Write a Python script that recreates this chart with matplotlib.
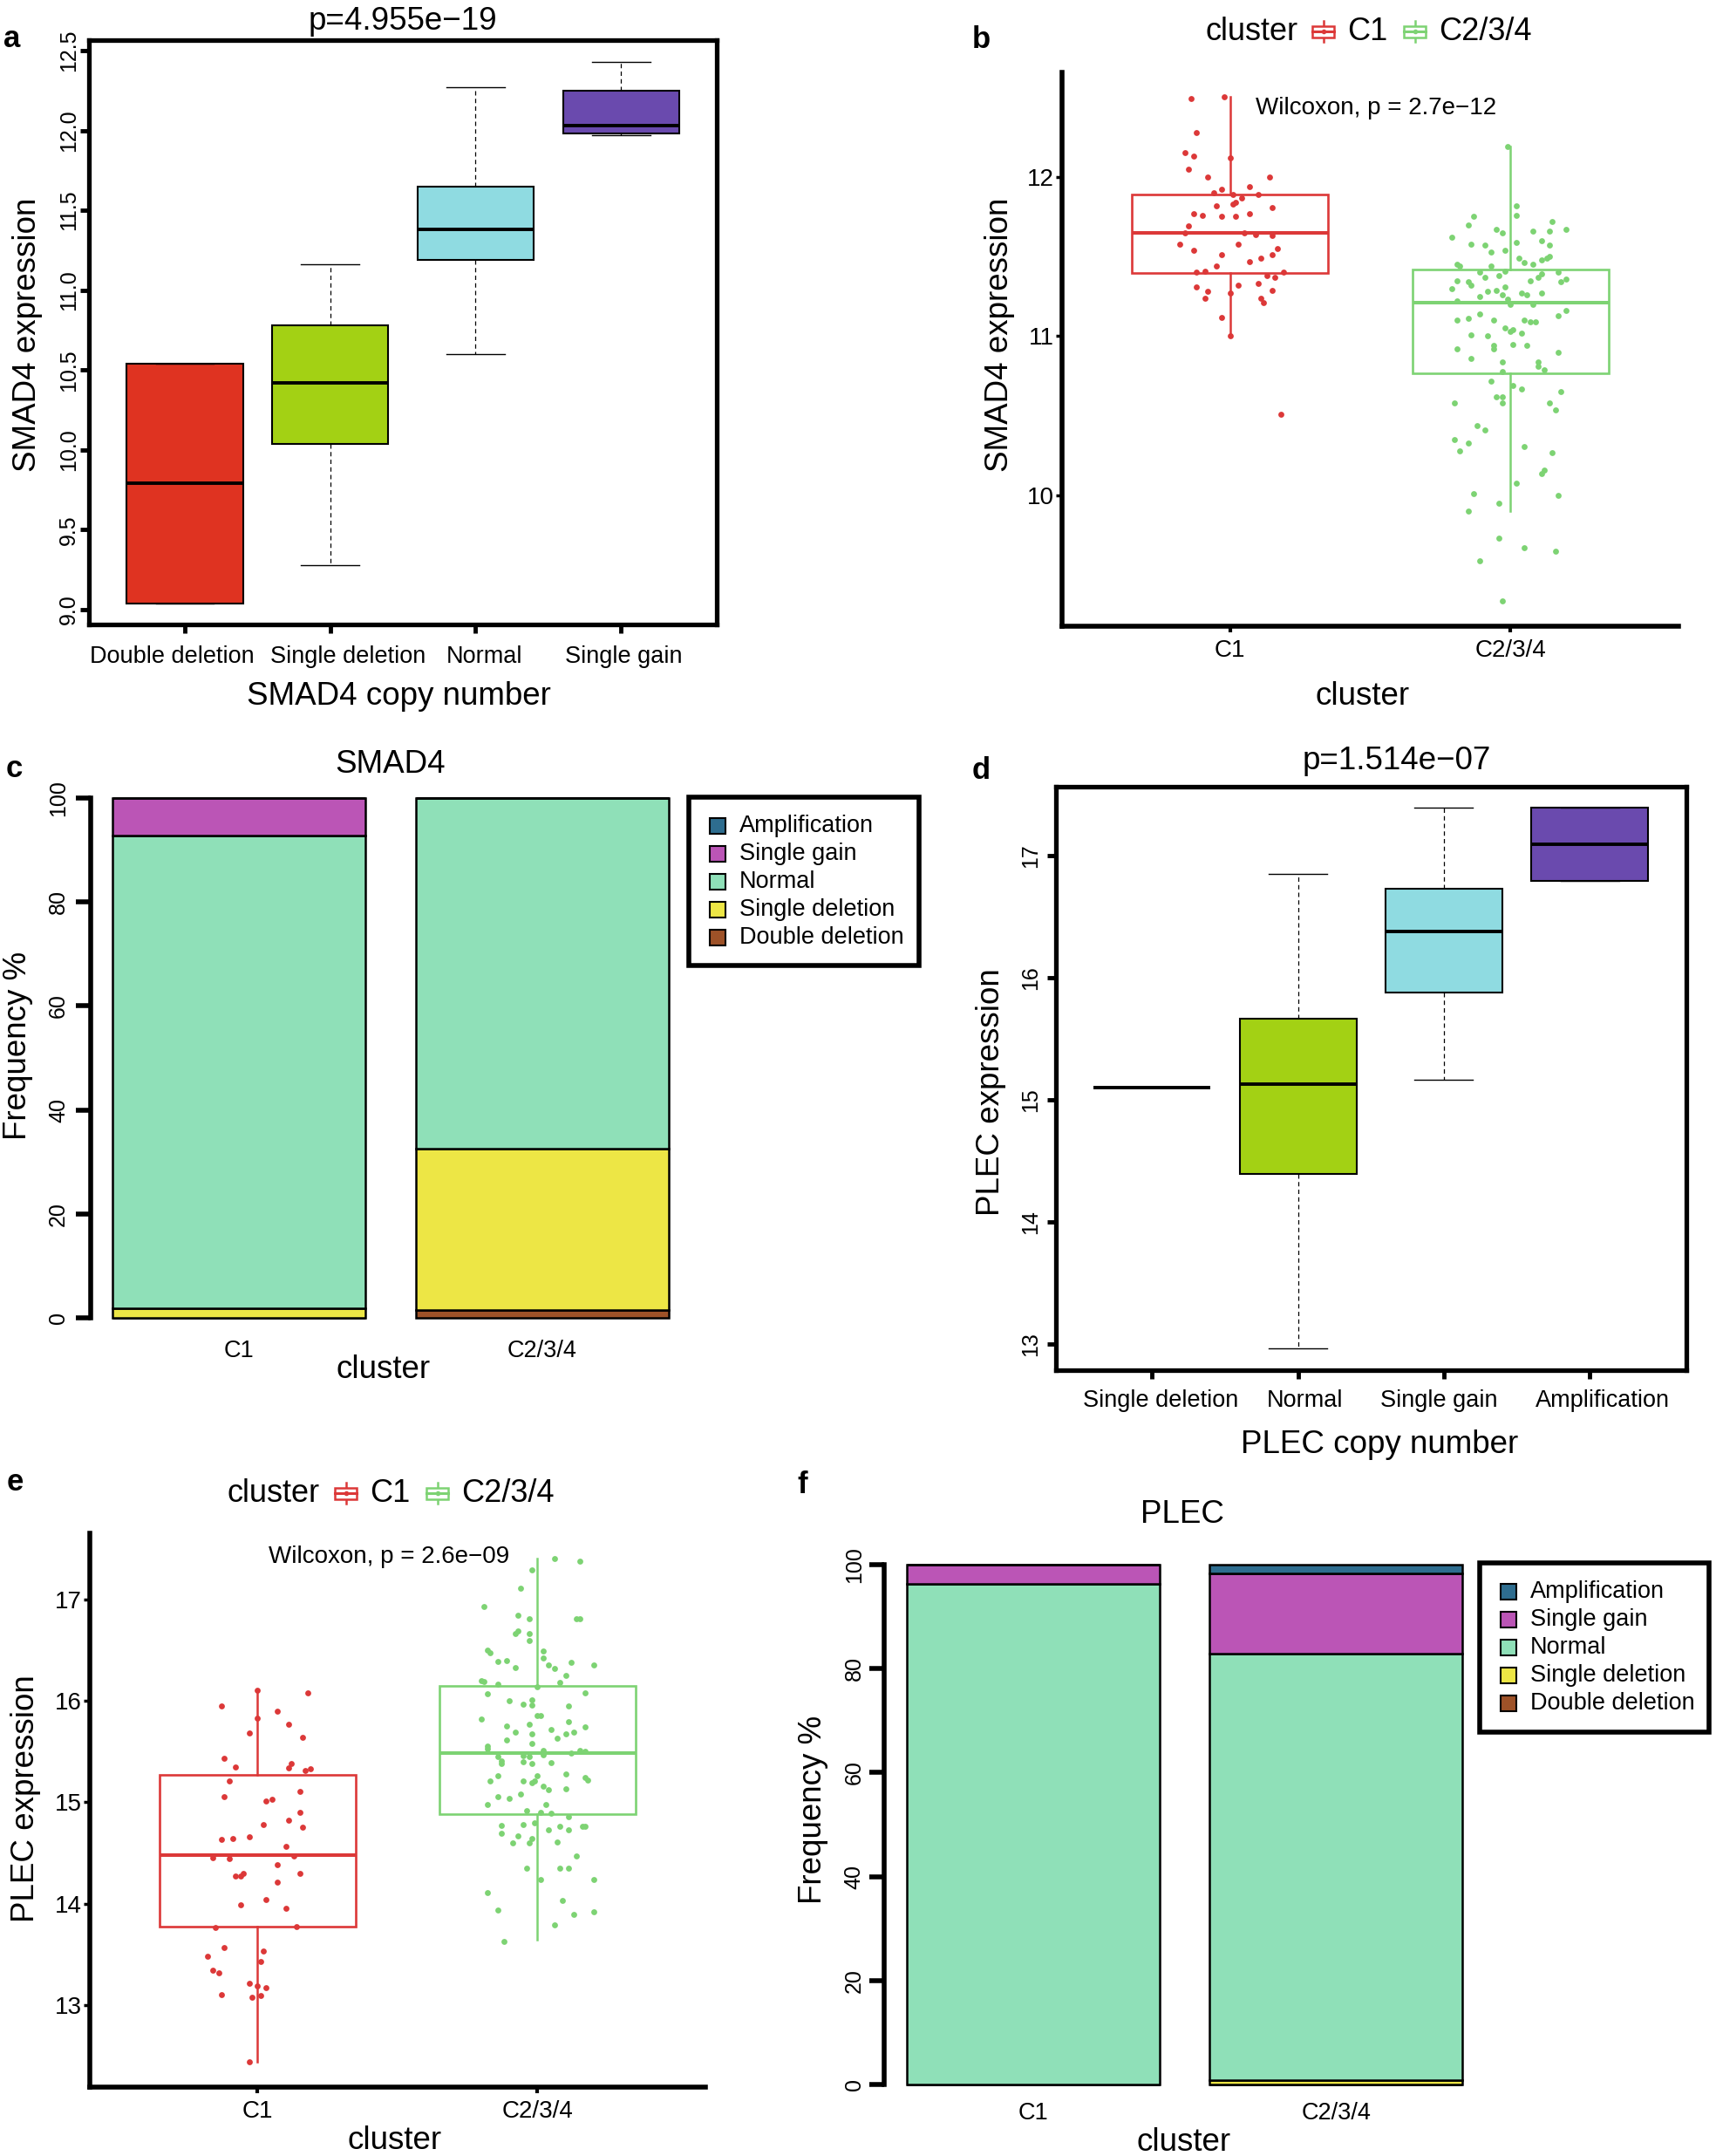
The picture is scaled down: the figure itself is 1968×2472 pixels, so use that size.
import numpy as np
import matplotlib
matplotlib.use("Agg")
import matplotlib.pyplot as plt
from matplotlib.patches import Rectangle

plt.rcParams['font.family'] = ['Liberation Sans', 'DejaVu Sans']

W, H = 1968, 2472

# ---------------- data ----------------
# panel a: SMAD4 expression by copy number (box stats)
smad4_cn = ["Double deletion", "Single deletion", "Normal", "Single gain"]
smad4_whislo = [9.04, 9.28, 10.60, 11.97]
smad4_q1 = [9.04, 10.04, 11.19, 11.98]
smad4_med = [9.79, 10.42, 11.38, 12.03]
smad4_q3 = [10.54, 10.78, 11.65, 12.25]
smad4_whishi = [10.54, 11.16, 12.27, 12.43]

# panel d: PLEC expression by copy number
plec_cn = ["Single deletion", "Normal", "Single gain", "Amplification"]
plec_whislo = [15.10, 12.96, 15.16, 16.79]
plec_q1 = [15.10, 14.39, 15.88, 16.79]
plec_med = [15.10, 15.13, 16.38, 17.09]
plec_q3 = [15.10, 15.66, 16.73, 17.39]
plec_whishi = [15.10, 16.85, 17.39, 17.39]

# clusters
clusters = ["C1", "C2/3/4"]

# panel b: SMAD4 by cluster (box stats + jittered points)
b_whislo = [11.00, 9.90]
b_q1 = [11.395, 10.765]
b_med = [11.65, 11.21]
b_q3 = [11.89, 11.42]
b_whishi = [12.50, 12.19]

b_c1_y = [12.49, 12.50, 12.28, 12.15, 12.13, 12.05, 12.12, 12.00, 12.00, 11.94,
          11.92, 11.90, 11.89, 11.89, 11.87, 11.82, 11.83, 11.84, 11.81, 11.77,
          11.76, 11.75, 11.75, 11.77, 11.69, 11.65, 11.65, 11.64, 11.63, 11.58,
          11.58, 11.54, 11.55, 11.51, 11.51, 11.47, 11.49, 11.44, 11.40, 11.41,
          11.40, 11.38, 11.37, 11.31, 11.32, 11.33, 11.28, 11.27, 11.29, 11.24,
          11.24, 11.21, 11.12, 11.00, 10.51]
b_c1_dx = [-0.14, -0.02, -0.12, -0.16, -0.13, -0.15, 0.00, -0.08, 0.14, 0.07,
           -0.03, -0.06, 0.10, 0.01, 0.04, -0.05, 0.01, 0.02, 0.15, -0.13,
           -0.10, -0.03, 0.02, 0.07, -0.15, -0.16, 0.05, 0.09, 0.15, -0.18,
           0.03, -0.13, 0.17, -0.03, 0.15, 0.07, 0.11, -0.05, -0.12, -0.09,
           0.19, 0.13, 0.16, -0.12, 0.03, 0.10, -0.08, 0.00, 0.15, -0.09,
           0.11, 0.12, -0.03, 0.00, 0.18]
b_c2_y = [12.19, 11.82, 11.76, 11.75, 11.70, 11.72, 11.67, 11.65, 11.66, 11.66,
          11.67, 11.62, 11.59, 11.60, 11.58, 11.57, 11.57, 11.53, 11.54, 11.49,
          11.46, 11.45, 11.48, 11.49, 11.50, 11.45, 11.44, 11.44, 11.40, 11.41,
          11.37, 11.38, 11.39, 11.37, 11.40, 11.35, 11.34, 11.35, 11.36, 11.34,
          11.30, 11.32, 11.31, 11.28, 11.29, 11.27, 11.26, 11.27, 11.25, 11.26,
          11.22, 11.23, 11.20, 11.20, 11.14, 11.10, 11.11, 11.10, 11.10, 11.09,
          11.09, 11.13, 11.16, 11.05, 11.03, 11.04, 11.02, 11.01, 11.00, 10.94,
          10.92, 10.95, 10.94, 10.92, 10.90, 10.86, 10.84, 10.84, 10.81, 10.79,
          10.78, 10.72, 10.69, 10.67, 10.65, 10.62, 10.62, 10.58, 10.58, 10.58,
          10.54, 10.44, 10.41, 10.35, 10.33, 10.28, 10.31, 10.27, 10.16, 10.14,
          10.08, 10.01, 10.00, 9.95, 9.90, 9.73, 9.67, 9.65, 9.59, 9.34]
b_c2_dx = [-0.01, 0.02, 0.02, -0.13, -0.15, 0.15, -0.05, -0.03, 0.08, 0.14,
           0.20, -0.21, 0.02, 0.11, -0.14, -0.09, 0.14, -0.07, -0.02, 0.03,
           0.05, 0.08, 0.11, 0.13, 0.14, -0.19, -0.18, -0.07, -0.11, -0.02,
           -0.09, -0.04, 0.11, 0.10, 0.17, -0.19, -0.15, 0.07, 0.20, 0.18,
           -0.21, -0.14, -0.02, -0.08, -0.05, 0.04, 0.06, 0.11, -0.11, -0.03,
           -0.19, -0.01, 0.00, 0.08, -0.11, -0.19, -0.15, -0.06, 0.05, 0.07,
           0.09, 0.17, 0.20, -0.02, 0.00, 0.01, 0.04, -0.14, -0.08, -0.06,
           -0.06, 0.01, 0.06, -0.19, 0.17, -0.14, -0.03, 0.10, 0.10, 0.12,
           -0.03, -0.07, 0.01, 0.04, 0.18, -0.05, -0.03, -0.03, -0.20, 0.14,
           0.16, -0.12, -0.09, -0.20, -0.15, -0.18, 0.05, 0.15, 0.12, 0.11,
           0.02, -0.13, 0.17, -0.04, -0.15, -0.04, 0.05, 0.16, -0.11, -0.03]

# panel e: PLEC by cluster
e_whislo = [12.44, 13.64]
e_q1 = [13.77, 14.88]
e_med = [14.48, 15.48]
e_q3 = [15.27, 16.15]
e_whishi = [16.10, 17.40]

e_c1_y = [16.10, 16.08, 15.95, 15.90, 15.83, 15.77, 15.68, 15.64, 15.43, 15.35,
          15.38, 15.34, 15.31, 15.33, 15.21, 15.05, 15.01, 15.03, 15.11, 14.90,
          14.82, 14.75, 14.78, 14.63, 14.64, 14.66, 14.56, 14.45, 14.44, 14.47,
          14.38, 14.30, 14.27, 14.30, 14.27, 14.21, 14.04, 13.99, 13.95, 13.76,
          13.77, 13.57, 13.53, 13.48, 13.43, 13.34, 13.32, 13.21, 13.19, 13.17,
          13.10, 13.08, 13.09, 12.44]
e_c1_dx = [0.00, 0.18, -0.13, 0.07, 0.00, 0.11, -0.03, 0.16, -0.12, -0.08,
           0.12, 0.11, 0.17, 0.19, -0.10, -0.12, 0.03, 0.05, 0.15, 0.15,
           0.11, 0.16, 0.02, -0.13, -0.09, -0.03, 0.10, -0.16, -0.10, 0.13,
           0.07, 0.15, -0.08, -0.05, -0.06, 0.07, 0.03, -0.06, 0.10, -0.15,
           0.14, -0.12, 0.02, -0.18, 0.01, -0.16, -0.14, -0.03, 0.00, 0.03,
           -0.13, -0.02, 0.01, -0.03]
e_c2_y = [17.40, 17.38, 17.29, 17.11, 16.93, 16.84, 16.81, 16.81, 16.81, 16.69,
          16.66, 16.66, 16.59, 16.50, 16.47, 16.49, 16.42, 16.39, 16.40, 16.33,
          16.35, 16.32, 16.38, 16.35, 16.25, 16.18, 16.20, 16.19, 16.16, 16.14,
          16.07, 16.08, 16.00, 15.97, 16.01, 15.96, 15.95, 15.82, 15.85, 15.85,
          15.79, 15.75, 15.77, 15.74, 15.69, 15.67, 15.72, 15.67, 15.69, 15.61,
          15.63, 15.58, 15.55, 15.53, 15.51, 15.51, 15.50, 15.45, 15.46, 15.45,
          15.47, 15.48, 15.41, 15.38, 15.40, 15.38, 15.39, 15.26, 15.21, 15.21,
          15.19, 15.21, 15.26, 15.28, 15.24, 15.22, 15.16, 15.12, 15.13, 15.08,
          15.05, 15.04, 14.98, 14.98, 14.92, 14.90, 14.89, 14.86, 14.80, 14.78,
          14.77, 14.69, 14.73, 14.76, 14.73, 14.76, 14.76, 14.67, 14.60, 14.64,
          14.60, 14.61, 14.47, 14.35, 14.35, 14.35, 14.24, 14.24, 14.11, 14.03,
          13.94, 13.89, 13.92, 13.79, 13.63]
e_c2_dx = [0.06, 0.15, -0.02, -0.06, -0.19, -0.07, -0.03, 0.14, 0.15, -0.07,
           -0.08, -0.03, -0.03, -0.18, -0.17, 0.02, 0.02, -0.14, -0.11, -0.08,
           0.04, 0.06, 0.12, 0.20, 0.10, 0.08, -0.20, -0.19, -0.14, 0.00,
           -0.18, 0.17, -0.10, -0.05, -0.02, -0.02, 0.11, -0.20, 0.00, 0.01,
           0.11, -0.11, -0.03, 0.17, -0.08, -0.02, 0.05, 0.10, 0.13, -0.11,
           0.07, -0.02, -0.18, -0.18, 0.02, 0.15, 0.17, -0.14, -0.05, -0.03,
           0.02, 0.12, -0.13, -0.13, -0.05, -0.02, 0.05, -0.14, -0.17, -0.05,
           -0.02, -0.01, 0.00, 0.10, 0.17, 0.18, 0.02, 0.04, 0.10, -0.06,
           -0.14, -0.10, -0.18, 0.03, -0.04, 0.01, 0.05, 0.11, -0.01, -0.05,
           -0.13, -0.13, 0.04, 0.08, 0.11, 0.16, 0.17, -0.07, -0.09, -0.02,
           -0.03, 0.07, 0.14, -0.04, 0.08, 0.11, 0.01, 0.20, -0.18, 0.09,
           -0.14, 0.13, 0.20, 0.06, -0.12]

# panels c, f: copy-number frequency (%) per cluster, legend order
cn_levels = ["Amplification", "Single gain", "Normal", "Single deletion", "Double deletion"]
smad4_freq_c1 = [0, 7.3, 90.9, 1.8, 0]
smad4_freq_c234 = [0, 0, 67.4, 31.1, 1.5]
plec_freq_c1 = [0, 3.8, 96.2, 0, 0]
plec_freq_c234 = [1.7, 15.5, 81.9, 0.9, 0]

# ---------------- styles ----------------
box_cols = ["#DF3321", "#A3D114", "#8FDBE1", "#6A4AAE"]
plec_cols = ["#DF3321", "#A3D114", "#8FDBE1", "#6A4AAE"]
clu_cols = ["#DC3838", "#7DD373"]
cn_cols = ["#2E6D8F", "#BB55B6", "#8FE0B8", "#EDE645", "#9E5228"]

# the category names in a/d sit slightly off their ticks in the original
smad4_label_shift = [-0.09, 0.12, 0.06, 0.02]
plec_label_shift = [0.06, 0.05, -0.035, 0.09]

fig = plt.figure(figsize=(W / 100, H / 100), dpi=100)


def px_axes(l, t, r, b):
    return fig.add_axes([l / W, 1 - b / H, (r - l) / W, (b - t) / H])


ov = fig.add_axes([0, 0, 1, 1], zorder=10)
ov.set_xlim(0, W)
ov.set_ylim(H, 0)
ov.axis('off')


def txt(x, y, s, size=26.5, **kw):
    kw.setdefault('ha', 'center')
    kw.setdefault('va', 'center_baseline')
    ov.text(x, y, s, fontsize=size, **kw)


def make_stats(lo, q1, med, q3, hi):
    return [dict(whislo=a, q1=b, med=c, q3=d, whishi=e, fliers=[])
            for a, b, c, d, e in zip(lo, q1, med, q3, hi)]


def r_boxplot(box, stats, names, shifts, cols, yticks, ylabels, ypad, label_y):
    ax = px_axes(*box)
    pos = np.arange(1, len(stats) + 1)
    bp = ax.bxp(stats, positions=pos, widths=0.8, patch_artist=True, showfliers=False,
                boxprops=dict(linewidth=1.5, edgecolor='black'),
                medianprops=dict(color='black', linewidth=2.8),
                whiskerprops=dict(color='black', linewidth=0.9, linestyle=(0, (4, 3))),
                capprops=dict(color='black', linewidth=1.0), capwidths=0.4)
    for p, c in zip(bp['boxes'], cols):
        p.set_facecolor(c)
    lo = min(s['whislo'] for s in stats)
    hi = max(s['whishi'] for s in stats)
    pad = 0.04 * (hi - lo)
    ax.set_ylim(lo - pad, hi + pad)
    ax.set_xlim(0.5 - 0.16, len(stats) + 0.5 + 0.16)
    ax.set_xticks(pos, [])
    for p, name, sh in zip(pos, names, shifts):
        ax.text(p + sh, label_y, name, fontsize=19.5, ha='center', va='center_baseline',
                transform=ax.get_xaxis_transform())
    ax.set_yticks(yticks, ylabels, rotation=90, va='center')
    for sp in ax.spines.values():
        sp.set_linewidth(3.8)
    ax.tick_params(axis='x', length=7, width=3.5)
    ax.tick_params(axis='y', length=7, width=3.5, labelsize=18, pad=ypad)
    return ax


def gg_boxplot(box, stats, ys, dxs, yticks, wil_xy, wil_text):
    ax = px_axes(*box)
    bp = ax.bxp(stats, positions=[1, 2], widths=0.7, patch_artist=True,
                showfliers=False, showcaps=False,
                boxprops=dict(linewidth=1.9, facecolor='none'),
                medianprops=dict(linewidth=2.9),
                whiskerprops=dict(linewidth=1.8))
    for i, c in enumerate(clu_cols):
        bp['boxes'][i].set_edgecolor(c)
        bp['medians'][i].set_color(c)
        bp['whiskers'][2 * i].set_color(c)
        bp['whiskers'][2 * i + 1].set_color(c)
    for i, (y, dx) in enumerate(zip(ys, dxs)):
        ax.scatter(np.array(dx) + i + 1, y, s=24, color=clu_cols[i], zorder=3, linewidths=0)
    allv = ys[0] + ys[1]
    pad = 0.05 * (max(allv) - min(allv))
    ax.set_ylim(min(allv) - pad, max(allv) + pad)
    ax.set_xlim(0.4, 2.6)
    ax.set_xticks([1, 2], clusters)
    ax.set_yticks(yticks, [str(v) for v in yticks])
    for s in ['top', 'right']:
        ax.spines[s].set_visible(False)
    for s in ['left', 'bottom']:
        ax.spines[s].set_linewidth(4)
    ax.tick_params(axis='x', length=5, width=3, labelsize=20, pad=6)
    ax.tick_params(axis='y', length=5, width=2.5, labelsize=20, pad=1.5)
    ax.text(wil_xy[0], wil_xy[1], wil_text, fontsize=20, ha='left', va='center')
    return ax


def gg_legend(x0, y):
    txt(x0, y, "cluster", size=26, ha='left', va='center')
    for k, (name, c) in enumerate(zip(clusters, clu_cols)):
        kx = x0 + 123 + 105 * k
        ov.plot([kx + 12.5, kx + 12.5], [y - 12, y + 12], color=c, lw=1.8, zorder=1)
        ov.add_patch(Rectangle((kx, y - 6.5), 25, 13, facecolor='white', edgecolor=c, lw=1.8))
        ov.plot([kx, kx + 25], [y, y], color=c, lw=2.2)
        ov.plot([kx + 12.5], [y], 'o', color=c, ms=3)
        txt(kx + 40, y, name, size=26, ha='left', va='center')


def freq_bars(box, f1, f2, ticks_pad, xpad):
    ax = px_axes(*box)
    bar_x = [0.7, 1.9]
    bottom = np.zeros(2)
    for i in range(len(cn_levels) - 1, -1, -1):
        vals = np.array([f1[i], f2[i]])
        ax.bar(bar_x, vals, width=1.0, bottom=bottom, color=cn_cols[i],
               edgecolor='black', linewidth=1.8)
        bottom += vals
    ax.set_xlim(0.112, 2.488)
    ax.set_ylim(-4, 104)
    for s in ['top', 'right', 'bottom']:
        ax.spines[s].set_visible(False)
    ax.spines['left'].set_linewidth(4)
    ax.spines['left'].set_bounds(0, 100)
    ax.set_yticks(range(0, 101, 20), [str(v) for v in range(0, 101, 20)],
                  rotation=90, va='center')
    ax.set_xticks(bar_x, clusters)
    ax.tick_params(axis='y', length=12, width=4, labelsize=18, pad=ticks_pad)
    ax.tick_params(axis='x', length=0, labelsize=19.5, pad=xpad)
    return ax


def cn_legend(l, t, r, b):
    ov.add_patch(Rectangle((l, t), r - l, b - t, facecolor='white', edgecolor='black', lw=4))
    for i, (name, c) in enumerate(zip(cn_levels, cn_cols)):
        yy = t + 33 + 32 * i
        ov.add_patch(Rectangle((l + 24, yy - 9), 18, 18, facecolor=c, edgecolor='black', lw=1.5))
        txt(l + 58, yy, name, size=19.5, ha='left', va='center')


# ---------------- panel a ----------------
r_boxplot((101.8, 46, 822.3, 716.5),
          make_stats(smad4_whislo, smad4_q1, smad4_med, smad4_q3, smad4_whishi),
          smad4_cn, smad4_label_shift, box_cols,
          [9.0, 9.5, 10.0, 10.5, 11.0, 11.5, 12.0, 12.5],
          ["9.0", "9.5", "10.0", "10.5", "11.0", "11.5", "12.0", "12.5"], 1, -0.05)
txt(462, 20, "p=4.955e\u221219")
txt(457, 795, "SMAD4 copy number")
txt(32, 384, "SMAD4 expression", rotation=90, va='center')
txt(4, 54, "a", size=25, ha='left', va='baseline', fontweight='bold')

# ---------------- panel b ----------------
gg_boxplot((1218, 82.6, 1925, 717.6), make_stats(b_whislo, b_q1, b_med, b_q3, b_whishi),
           [b_c1_y, b_c2_y], [b_c1_dx, b_c2_dx], [10, 11, 12],
           (1.09, 12.43), "Wilcoxon, p = 2.7e\u221212")
gg_legend(1382, 36)
txt(1563, 795, "cluster")
txt(1147, 384, "SMAD4 expression", rotation=90, va='center')
txt(1115, 55, "b", size=25, ha='left', va='baseline', fontweight='bold')

# ---------------- panel c ----------------
freq_bars((104, 891, 792, 1535), smad4_freq_c1, smad4_freq_c234, 6, 1)
cn_legend(790, 914, 1054, 1107)
txt(448, 872, "SMAD4")
txt(440, 1567, "cluster")
txt(21, 1199, "Frequency %", rotation=90, va='center')
txt(7, 891, "c", size=25, ha='left', va='baseline', fontweight='bold')

# ---------------- panel d ----------------
r_boxplot((1211, 901.6, 1933.5, 1571),
          make_stats(plec_whislo, plec_q1, plec_med, plec_q3, plec_whishi),
          plec_cn, plec_label_shift, plec_cols, [13, 14, 15, 16, 17],
          ["13", "14", "15", "16", "17"], 5, -0.048)
txt(1602, 868, "p=1.514e\u221207")
txt(1582, 1652, "PLEC copy number")
txt(1137, 1252, "PLEC expression", rotation=90, va='center')
txt(1115, 893, "d", size=25, ha='left', va='baseline', fontweight='bold')

# ---------------- panel e ----------------
gg_boxplot((102.9, 1758.4, 809, 2392.8), make_stats(e_whislo, e_q1, e_med, e_q3, e_whishi),
           [e_c1_y, e_c2_y], [e_c1_dx, e_c2_dx], [13, 14, 15, 16, 17],
           (1.04, 17.42), "Wilcoxon, p = 2.6e\u221209")
gg_legend(261, 1712)
txt(453, 2450, "cluster")
txt(30, 2062, "PLEC expression", rotation=90, va='center')
txt(8, 1709, "e", size=25, ha='left', va='baseline', fontweight='bold')

# ---------------- panel f ----------------
freq_bars((1014, 1769.7, 1703, 2414), plec_freq_c1, plec_freq_c234, 4, -3)
cn_legend(1697, 1792, 1960, 1986)
txt(1356, 1733, "PLEC")
txt(1358, 2452, "cluster")
txt(933, 2075, "Frequency %", rotation=90, va='center')
txt(914, 1712, "f", size=25, ha='left', va='baseline', fontweight='bold')

fig.savefig("out.png", dpi=100)
